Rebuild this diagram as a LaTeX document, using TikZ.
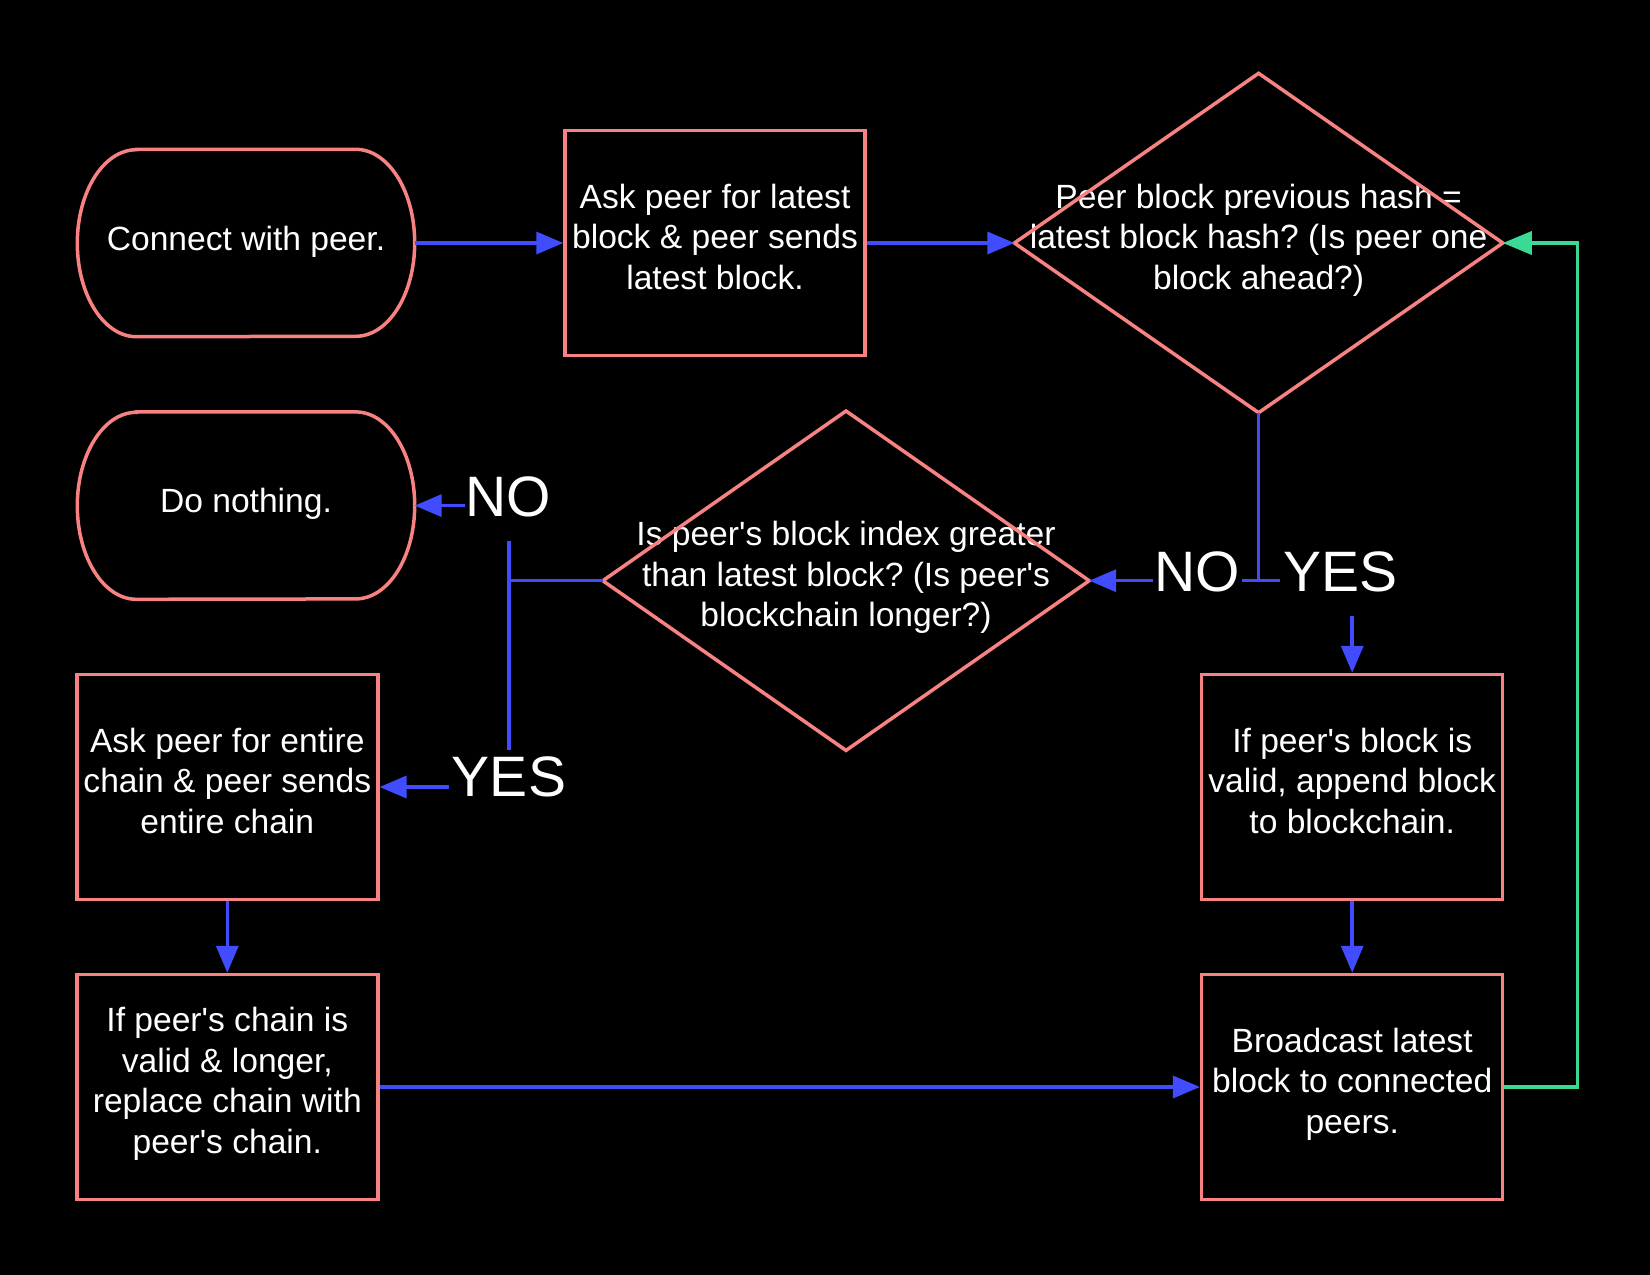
\documentclass[tikz,border=0pt]{standalone}
\usepackage{fontspec}
\setmainfont{Liberation Sans}[Ligatures=TeXOff]
\usetikzlibrary{arrows.meta}
\definecolor{pinkc}{RGB}{248,130,130}
\definecolor{bluec}{RGB}{66,76,255}
\definecolor{greenc}{RGB}{58,218,148}
\frenchspacing
\begin{document}
\begin{tikzpicture}[x=1pt,y=-1pt,
 txt/.style={align=center, text=white, font=\fontsize{33.6}{40.5}\selectfont\frenchspacing,
   execute at begin node={\rule{0pt}{27.25pt}}, execute at end node={\rule[-13.25pt]{0pt}{13.25pt}}},
 box/.style={txt, rectangle, draw=pinkc, line width=3.5pt, minimum width=301pt, minimum height=225pt, inner sep=0pt},
 plain/.style={txt, rectangle, inner sep=0pt},
 big/.style={inner sep=0pt, text=white, font=\fontsize{57}{62}\selectfont},
 conn/.style={draw=bluec, line width=3.5pt},
 arr/.style={conn, -{Triangle[length=27pt,width=22pt]}},
 garr/.style={draw=greenc, line width=3.5pt, -{Triangle[length=29pt,width=23pt]}},
 outline/.style={draw=pinkc, line width=3.5pt, line join=miter}
]
\fill[black] (0,0) rectangle (1650,1275);
\useasboundingbox (0,0) rectangle (1650,1275);

\node[plain, minimum width=337pt, minimum height=187pt] (start) at (246,243) {Connect with peer.};
\node[box, minimum width=300pt] (ask) at (715,243) {Ask peer for latest\\block \& peer sends\\latest block.};
\node[plain, minimum width=488pt, minimum height=339pt] (d1) at (1258.6,243) {Peer block previous hash =\\latest block hash? (Is peer one\\block ahead?)};
\node[plain, minimum width=337pt, minimum height=187pt] (none) at (246,505.6) {Do nothing.};
\node[plain, minimum width=486pt, minimum height=339pt] (d2) at (846,580.7) {Is peer's block index greater\\than latest block? (Is peer's\\blockchain longer?)};
\node[box] (askall) at (227.3,787) {Ask peer for entire\\chain \& peer sends\\entire chain};
\node[box] (replace) at (227.3,1087) {If peer's chain is\\valid \& longer,\\replace chain with\\peer's chain.};
\node[box] (append) at (1352.2,787) {If peer's block is\\valid, append block\\to blockchain.};
\node[box] (bcast) at (1352.2,1087) {Broadcast latest\\block to connected\\peers.};

% terminator outlines
\foreach \n in {start,none}{
 \draw[outline] ([xshift=59pt]\n.north west) -- ([xshift=-59pt]\n.north east)
   arc[start angle=90,end angle=-90,x radius=59pt,y radius=93.5pt]
   -- ([xshift=59pt]\n.south west)
   arc[start angle=270,end angle=90,x radius=59pt,y radius=93.5pt] -- cycle;
}
% diamond outlines
\foreach \n in {d1,d2}{
 \draw[outline] (\n.north) -- (\n.east) -- (\n.south) -- (\n.west) -- cycle;
}

% labels
\node[big] (noR) at (1197.5,572) {NO};
\node[big] (yesR) at (1340.5,572) {YES};
\node[big] (noL) at (508.5,497) {NO};
\node[big] (yesL) at (509,777) {YES};

% connectors
\draw[arr] (start.east) -- (ask.west);
\draw[arr] (ask.east) -- (d1.west);
\coordinate (jR) at (1258.6,580.7);
\draw[conn] (d1.south) -- (jR);
\draw[conn] ([xshift=-17pt]jR) -- ([xshift=21pt]jR);
\coordinate (noRa) at (1153,580.7);
\draw[arr] (noRa) -- (d2.east);
\coordinate (yesRa) at (1352.2,616);
\draw[arr] (yesRa) -- (append.north);
\coordinate (jL) at (509,580.7);
\coordinate (jLt) at (509,541);
\coordinate (jLb) at (509,750);
\draw[conn] (d2.west) -- (jL);
\draw[conn] (jLt) -- (jLb);
\coordinate (noLa) at (465,505.6);
\draw[arr] (noLa) -- (none.east);
\coordinate (yesLa) at (449,787);
\draw[arr] (yesLa) -- (askall.east);
\draw[arr] (askall.south) -- (replace.north);
\draw[arr] (append.south) -- (bcast.north);
\draw[arr] (replace.east) -- (bcast.west);
\coordinate (gR) at (1577.7,243);
\draw[garr] (bcast.east) -| (gR) -- (d1.east);
\end{tikzpicture}
\end{document}
